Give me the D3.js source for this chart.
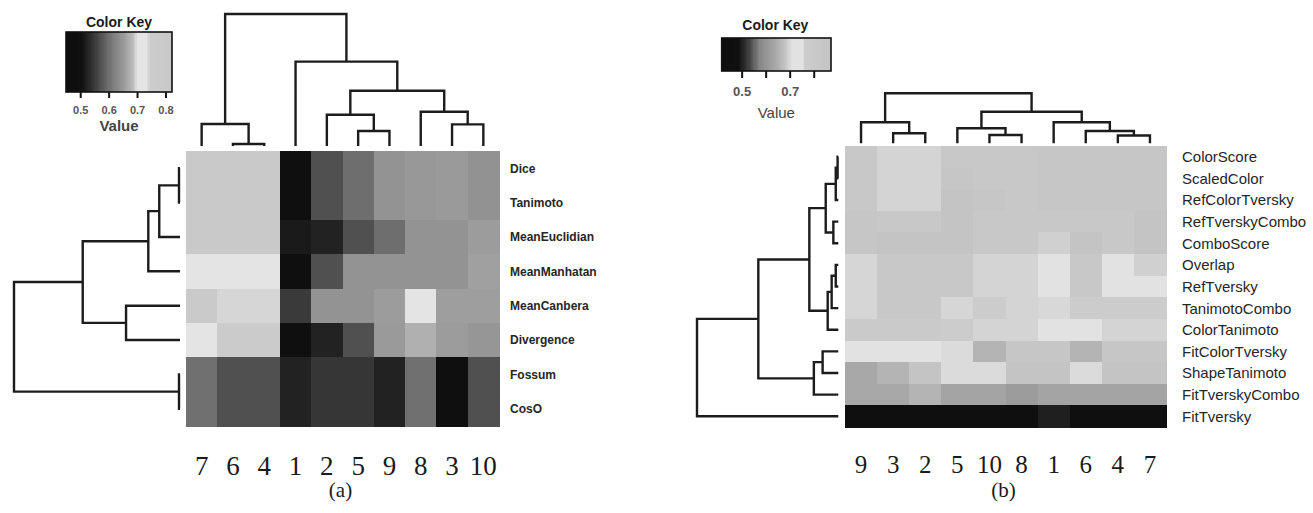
<!DOCTYPE html>
<html>
<head>
<meta charset="utf-8">
<script src="https://d3js.org/d3.v7.min.js"></script>
<style>
  body { margin: 0; background: #fff; }
  svg text { font-family: "Liberation Sans", Arial, sans-serif; }
</style>
</head>
<body>
<script>
// ---- panel (a) ----
var colsA = ["7", "6", "4", "1", "2", "5", "9", "8", "3", "10"];
var rowsA = ["Dice", "Tanimoto", "MeanEuclidian", "MeanManhatan", "MeanCanbera", "Divergence", "Fossum", "CosO"];
var valuesA = [
  [0.80, 0.80, 0.80, 0.48, 0.570, 0.598, 0.644, 0.650, 0.652, 0.643],
  [0.80, 0.80, 0.80, 0.48, 0.570, 0.598, 0.644, 0.650, 0.652, 0.643],
  [0.80, 0.80, 0.80, 0.516, 0.524, 0.570, 0.598, 0.644, 0.644, 0.654],
  [0.72, 0.72, 0.72, 0.48, 0.570, 0.644, 0.644, 0.644, 0.644, 0.658],
  [0.79, 0.696, 0.696, 0.550, 0.644, 0.644, 0.654, 0.72, 0.656, 0.656],
  [0.72, 0.76, 0.76, 0.48, 0.524, 0.570, 0.652, 0.674, 0.654, 0.648],
  [0.60, 0.570, 0.570, 0.524, 0.546, 0.546, 0.524, 0.60, 0.48, 0.570],
  [0.60, 0.570, 0.570, 0.524, 0.546, 0.546, 0.524, 0.60, 0.48, 0.570]
];
// merges: [child, child, height]; a number points to an earlier merge
var colTreeA = [["6", "4", 0.015], ["7", 0, 0.167], ["5", "9", 0.114], ["2", 2, 0.237],
  ["3", "10", 0.164], ["8", 4, 0.26], [3, 5, 0.419], ["1", 6, 0.639], [1, 7, 1.0]];
var rowTreeA = [["Dice", "Tanimoto", 0.006], [0, "MeanEuclidian", 0.125], [1, "MeanManhatan", 0.191],
  ["MeanCanbera", "Divergence", 0.325], [2, 3, 0.586], ["Fossum", "CosO", 0.006], [4, 5, 1.0]];
var keyTicksA = [0.5, 0.6, 0.7, 0.8];
var keyLabelsA = ["0.5", "0.6", "0.7", "0.8"];

// ---- panel (b) ----
var colsB = ["9", "3", "2", "5", "10", "8", "1", "6", "4", "7"];
var rowsB = ["ColorScore", "ScaledColor", "RefColorTversky", "RefTverskyCombo", "ComboScore", "Overlap",
  "RefTversky", "TanimotoCombo", "ColorTanimoto", "FitColorTversky", "ShapeTanimoto", "FitTverskyCombo", "FitTversky"];
var valuesB = [
  [0.818, 0.697, 0.697, 0.818, 0.818, 0.818, 0.845, 0.845, 0.845, 0.845],
  [0.818, 0.697, 0.697, 0.845, 0.818, 0.818, 0.845, 0.845, 0.845, 0.845],
  [0.818, 0.697, 0.697, 0.872, 0.845, 0.818, 0.845, 0.845, 0.845, 0.845],
  [0.845, 0.818, 0.818, 0.872, 0.818, 0.818, 0.818, 0.818, 0.818, 0.872],
  [0.845, 0.872, 0.872, 0.872, 0.818, 0.818, 0.693, 0.872, 0.818, 0.872],
  [0.699, 0.818, 0.818, 0.818, 0.697, 0.697, 0.72, 0.818, 0.72, 0.693],
  [0.699, 0.818, 0.818, 0.818, 0.697, 0.697, 0.72, 0.818, 0.72, 0.72],
  [0.699, 0.818, 0.818, 0.699, 0.765, 0.697, 0.701, 0.765, 0.765, 0.765],
  [0.792, 0.792, 0.792, 0.765, 0.697, 0.697, 0.72, 0.72, 0.697, 0.697],
  [0.71, 0.71, 0.71, 0.703, 0.658, 0.845, 0.845, 0.658, 0.845, 0.845],
  [0.64, 0.658, 0.872, 0.703, 0.703, 0.872, 0.872, 0.703, 0.872, 0.872],
  [0.64, 0.64, 0.658, 0.632, 0.632, 0.616, 0.632, 0.632, 0.632, 0.632],
  [0.46, 0.46, 0.46, 0.46, 0.46, 0.46, 0.50, 0.46, 0.46, 0.46]
];
var colTreeB = [["3", "2", 0.2], ["9", 0, 0.42], ["10", "8", 0.166], ["5", 2, 0.3], ["4", "7", 0.156],
  ["6", 4, 0.246], ["1", 5, 0.42], [3, 6, 0.632], [1, 7, 1.0]];
var rowTreeB = [["ColorScore", "ScaledColor", 0.005], [0, "RefColorTversky", 0.018], ["RefTverskyCombo", "ComboScore", 0.035],
  [1, 2, 0.089], ["Overlap", "RefTversky", 0.018], [4, "TanimotoCombo", 0.047], [5, "ColorTanimoto", 0.075],
  [3, 6, 0.205], ["FitColorTversky", "ShapeTanimoto", 0.111], [8, "FitTverskyCombo", 0.173], [7, 9, 0.566], [10, "FitTversky", 1.0]];
var keyTicksB = [0.5, 0.6, 0.7, 0.8];
var keyLabelsB = ["0.5", "", "0.7", ""];

var svg = d3.select("body").append("svg")
  .attr("width", 1313)
  .attr("height", 513);

function grey(v) { return d3.rgb(v, v, v).toString(); }

function drawPanel(p) {
  var g = svg.append("g");
  var x = d3.scaleBand().domain(p.cols).range([p.left, p.right]);
  var y = d3.scaleBand().domain(p.rows).range([p.top, p.bottom]);
  var color = d3.scaleLinear().domain(p.stops).range(p.greys.map(grey)).clamp(true);

  var cells = [];
  p.values.forEach(function (row, i) {
    row.forEach(function (v, j) { cells.push({ r: p.rows[i], c: p.cols[j], v: v }); });
  });
  g.selectAll("rect.cell").data(cells).enter().append("rect")
    .attr("class", "cell")
    .attr("x", function (d) { return x(d.c); })
    .attr("y", function (d) { return y(d.r); })
    .attr("width", x.bandwidth() + 0.5)
    .attr("height", y.bandwidth() + 0.5)
    .attr("shape-rendering", "crispEdges")
    .style("fill", function (d) { return color(d.v); });

  // row labels
  g.selectAll("text.row").data(p.rows).enter().append("text")
    .attr("class", "row")
    .attr("x", p.right + p.rowLabelGap)
    .attr("y", function (d) { return y(d) + y.bandwidth() / 2; })
    .attr("dy", "0.36em")
    .style("font-size", p.rowFont + "px")
    .style("font-weight", p.rowWeight)
    .style("fill", "#262626")
    .text(function (d) { return d; });

  // column labels
  g.selectAll("text.col").data(p.cols).enter().append("text")
    .attr("class", "col")
    .attr("x", function (d) { return x(d) + x.bandwidth() / 2; })
    .attr("y", p.colLabelY)
    .attr("text-anchor", "middle")
    .style("font-family", "'Liberation Serif', 'Times New Roman', serif")
    .style("font-size", p.colFont + "px")
    .style("fill", "#1a1a1a")
    .text(function (d) { return d; });

  g.append("text")
    .attr("x", (p.left + p.right) / 2 - 2)
    .attr("y", 497)
    .attr("text-anchor", "middle")
    .style("font-family", "'Liberation Serif', 'Times New Roman', serif")
    .style("font-size", "21px")
    .style("fill", "#1a1a1a")
    .text(p.caption);

  // dendrograms
  var hCol = d3.scaleLinear().domain([0, 1]).range([p.colLeafEdge, p.colRoot]);
  var hRow = d3.scaleLinear().domain([0, 1]).range([p.rowLeafEdge, p.rowRoot]);
  drawTree(g, p.colTree, function (k) { return x(k) + x.bandwidth() / 2; }, hCol, true);
  drawTree(g, p.rowTree, function (k) { return y(k) + y.bandwidth() / 2; }, hRow, false);

  // color key
  var kx = d3.scaleLinear().domain(p.keyDomain).range([p.keyX0, p.keyX1]);
  var k = p.key;
  var bands = d3.range(0, 90);
  var bw = (p.keyX1 - p.keyX0) / bands.length;
  g.selectAll("rect.key").data(bands).enter().append("rect")
    .attr("class", "key")
    .attr("x", function (d) { return p.keyX0 + d * bw; })
    .attr("y", k.top)
    .attr("width", bw + 0.4)
    .attr("height", k.bottom - k.top)
    .attr("shape-rendering", "crispEdges")
    .style("fill", function (d) { return color(kx.invert(p.keyX0 + (d + 0.5) * bw)); });
  g.append("rect")
    .attr("x", p.keyX0).attr("y", k.top)
    .attr("width", p.keyX1 - p.keyX0).attr("height", k.bottom - k.top)
    .style("fill", "none").style("stroke", "#111").style("stroke-width", 1.6);

  var axis = d3.axisBottom(kx)
    .tickValues(p.keyTicks)
    .tickSize(k.tick)
    .tickPadding(k.pad)
    .tickFormat(function (d, i) { return p.keyLabels[i]; });
  var ax = g.append("g")
    .attr("transform", "translate(0," + k.bottom + ")")
    .call(axis);
  ax.select(".domain").remove();
  ax.selectAll(".tick line").style("stroke", "#111").style("stroke-width", 2);
  ax.selectAll(".tick text")
    .style("font-family", "'Liberation Sans', Arial, sans-serif")
    .style("font-size", k.tickFont + "px")
    .style("font-weight", "bold")
    .style("fill", "#555");

  g.append("text")
    .attr("x", (p.keyX0 + p.keyX1) / 2 + k.titleShift)
    .attr("y", k.titleY)
    .attr("text-anchor", "middle")
    .style("font-size", "14px")
    .style("font-weight", "bold")
    .style("fill", "#1a1a1a")
    .text("Color Key");
  g.append("text")
    .attr("x", (p.keyX0 + p.keyX1) / 2 + k.valueShift)
    .attr("y", k.valueY)
    .attr("text-anchor", "middle")
    .style("font-size", k.valueFont + "px")
    .style("font-weight", k.valueWeight)
    .style("fill", "#444")
    .text("Value");
}

function drawTree(g, tree, leafPos, hs, isCol) {
  var nodes = [];
  function get(c) { return typeof c === "number" ? nodes[c] : { p: leafPos(c), h: 0 }; }
  var line = d3.line()
    .x(function (d) { return isCol ? d[0] : hs(d[1]); })
    .y(function (d) { return isCol ? hs(d[1]) : d[0]; });
  tree.forEach(function (m) {
    var a = get(m[0]), b = get(m[1]);
    var n = { p: (a.p + b.p) / 2, h: m[2] };
    nodes.push(n);
    g.append("path")
      .attr("d", line([[a.p, a.h], [a.p, n.h], [b.p, n.h], [b.p, b.h]]))
      .style("fill", "none")
      .style("stroke", "#1c1c1c")
      .style("stroke-width", 2.4);
  });
}

drawPanel({
  cols: colsA, rows: rowsA, values: valuesA, caption: "(a)",
  left: 186, right: 499, top: 151, bottom: 426,
  stops: [0.45, 0.505, 0.55, 0.60, 0.65, 0.69, 0.70, 0.735, 0.745, 0.823],
  greys: [14, 16, 58, 112, 152, 192, 228, 228, 204, 200],
  rowLabelGap: 11, rowFont: 12, rowWeight: "bold",
  colLabelY: 475, colFont: 27,
  colTree: colTreeA, colLeafEdge: 146, colRoot: 14,
  rowTree: rowTreeA, rowLeafEdge: 180, rowRoot: 14,
  keyDomain: [0.45, 0.823], keyX0: 66, keyX1: 172, keyTicks: keyTicksA, keyLabels: keyLabelsA,
  key: { top: 32, bottom: 92, tick: 6, pad: 8, tickFont: 11, titleY: 27, titleShift: 0,
    valueY: 131, valueShift: 0, valueFont: 15, valueWeight: "bold" }
});

drawPanel({
  cols: colsB, rows: rowsB, values: valuesB, caption: "(b)",
  left: 845, right: 1166, top: 146, bottom: 427,
  stops: [0.417, 0.486, 0.53, 0.576, 0.64, 0.68, 0.71, 0.755, 0.765, 0.872],
  greys: [14, 16, 64, 136, 168, 194, 226, 226, 204, 196],
  rowLabelGap: 16, rowFont: 15, rowWeight: "normal",
  colLabelY: 473, colFont: 25,
  colTree: colTreeB, colLeafEdge: 143.3, colRoot: 93.3,
  rowTree: rowTreeB, rowLeafEdge: 838.3, rowRoot: 697,
  keyDomain: [0.417, 0.872], keyX0: 721.7, keyX1: 831, keyTicks: keyTicksB, keyLabels: keyLabelsB,
  key: { top: 38, bottom: 71, tick: 7, pad: 9, tickFont: 13, titleY: 30, titleShift: -1,
    valueY: 118, valueShift: 0, valueFont: 15, valueWeight: "normal" }
});
</script>
</body>
</html>
